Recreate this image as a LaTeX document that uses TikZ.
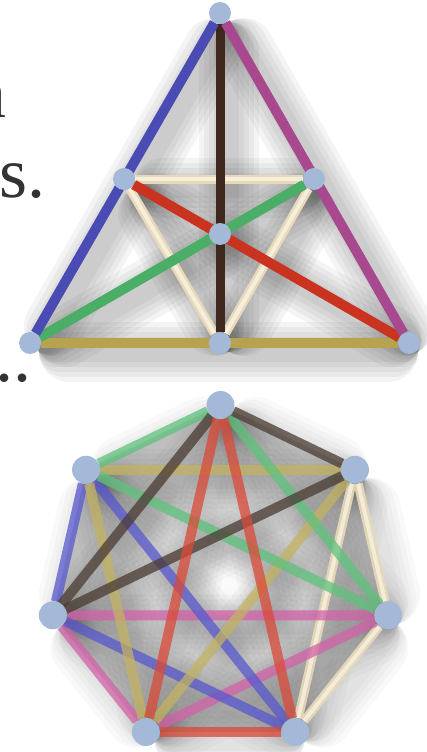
\documentclass[tikz,border=0pt]{standalone}
\usepackage{fontspec}
\setmainfont{Liberation Serif}

\definecolor{puntoazul}{HTML}{A3B9D7}
\definecolor{azul}{HTML}{4A4CB4}
\definecolor{magenta}{HTML}{A8488E}
\definecolor{cafe}{HTML}{3E271D}
\definecolor{oliva}{HTML}{B7A34F}
\definecolor{rojo}{HTML}{C9331F}
\definecolor{verde}{HTML}{4AAE66}
\definecolor{cremaosc}{HTML}{E8DAB8}
\definecolor{cremacla}{HTML}{F6EEDC}
\definecolor{hrojo}{HTML}{DA4A38}
\definecolor{hverde}{HTML}{5EC27C}
\definecolor{hcafe}{HTML}{4A3A33}
\definecolor{holiva}{HTML}{C2B262}
\definecolor{hazul}{HTML}{5858CF}
\definecolor{hmagenta}{HTML}{D262A8}
\definecolor{texto}{HTML}{333333}

\pgfdeclarelayer{sombras}
\pgfdeclarelayer{lineas}
\pgfsetlayers{sombras,lineas,main}

\newcommand{\sombra}[3][0.03]{%
  \foreach \w in {60,50,40,30,20}
    \draw[line width=\w pt, black, opacity=#1, line cap=round,
          shorten <=\w/2 pt, shorten >=\w/2 pt,
          transform canvas={xshift=9pt, yshift=-9pt}] (#2.center) -- (#3.center);}

\begin{document}
\begin{tikzpicture}[x=1pt, y=-1pt,
  punto/.style={circle, fill=puntoazul, inner sep=0pt, minimum size=22pt},
  vertice/.style={punto, minimum size=28pt},
  linea/.style={line width=10pt},
  arista/.style={line width=10pt, draw opacity=0.75},
  crema/.style={line width=2.5pt, draw=cremaosc, double=cremacla, double distance=4pt},
  letra/.style={inner sep=0pt, text=texto, font=\fontsize{72}{80}\selectfont}]

\useasboundingbox (0,0) rectangle (427,752);

% Texto cortado
\node[letra, anchor=base east] (n) at (7,117) {n};
\node[letra, anchor=base west] (s) at (-1,197) {s.};
\node[letra, anchor=base west] (p) at (-5,381) {..};

% Plano de Fano
\node[punto] (T) at (220,13) {};
\node[punto] (L) at (124,179) {};
\node[punto] (R) at (314,179) {};
\node[punto] (C) at (220,234) {};
\node[punto] (BL) at (30,343) {};
\node[punto] (BM) at (220,343) {};
\node[punto] (BR) at (409,343) {};

\begin{pgfonlayer}{sombras}
	\foreach \a/\b in {T/BL, T/BR, T/BM, BL/BR, L/BR, BL/R, L/R, L/BM, R/BM}
		{\sombra[0.045]{\a}{\b}}
\end{pgfonlayer}

\begin{pgfonlayer}{lineas}
	\draw[crema] (L) -- (R);
	\draw[crema] (L) -- (BM);
	\draw[crema] (R) -- (BM);
	\draw[linea, oliva] (BL) -- (BR);
	\draw[linea, cafe, line width=9pt] (T) -- (BM);
	\draw[linea, verde] (BL) -- (R);
	\draw[linea, rojo] (L) -- (BR);
	\draw[linea, azul] (T) -- (BL);
	\draw[linea, magenta] (T) -- (BR);
\end{pgfonlayer}

% Grafo completo
\foreach \k in {0,...,6}
	\node[vertice] (h\k) at ({220.5+172*sin(\k*360/7)}, {577-172*cos(\k*360/7)}) {};

\begin{pgfonlayer}{sombras}
	\shade[inner color=white, outer color=black!18]
		(h0.center) -- (h1.center) -- (h2.center) -- (h3.center)
		-- (h4.center) -- (h5.center) -- (h6.center) -- cycle;
	\foreach \a/\b in {0/1,0/2,0/3,0/4,0/5,0/6,1/2,1/3,1/4,1/5,1/6,2/3,2/4,2/5,2/6,3/4,3/5,3/6,4/5,4/6,5/6}
		{\sombra[0.025]{h\a}{h\b}}
\end{pgfonlayer}

\begin{pgfonlayer}{lineas}
	\foreach \a/\b in {1/2, 1/3, 2/3}
		\draw[crema, draw opacity=0.9] (h\a) -- (h\b);
	\foreach \a/\b/\c in {2/4/hmagenta, 2/5/hmagenta, 4/5/hmagenta,
	                      3/5/hazul, 3/6/hazul, 5/6/hazul,
	                      1/4/holiva, 1/6/holiva, 4/6/holiva,
	                      0/6/hverde, 0/2/hverde, 2/6/hverde,
	                      0/1/hcafe, 0/5/hcafe, 1/5/hcafe,
	                      0/3/hrojo, 0/4/hrojo, 3/4/hrojo}
		\draw[arista, \c] (h\a) -- (h\b);
\end{pgfonlayer}

\end{tikzpicture}
\end{document}
